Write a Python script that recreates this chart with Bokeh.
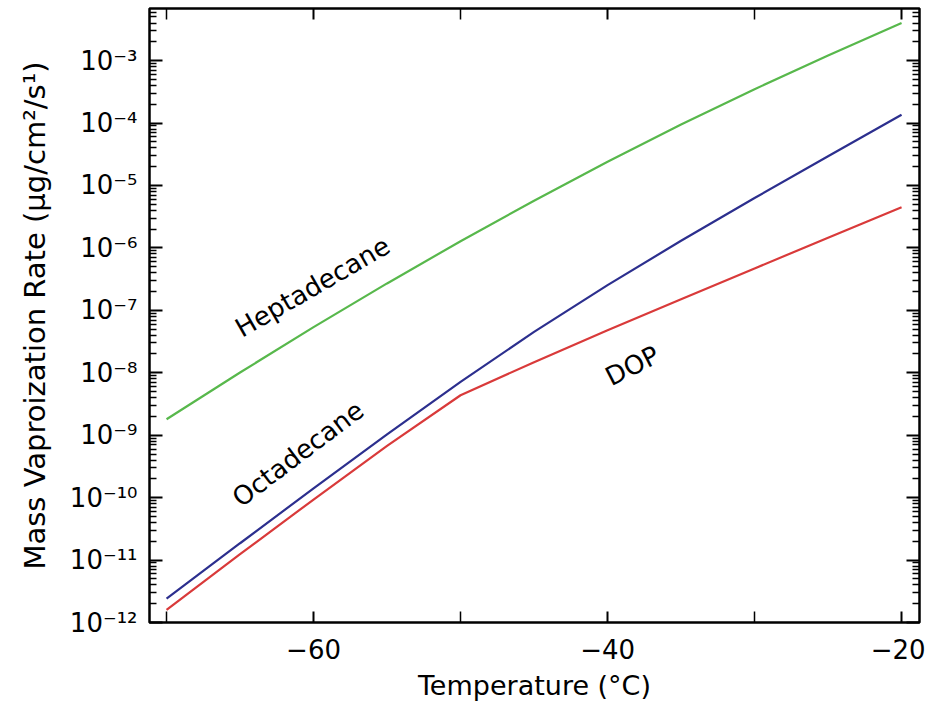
from bokeh.plotting import figure
from bokeh.models import (LinearAxis, LogAxis, FixedTicker, CustomJSTickFormatter,
                          Label, Range1d)
from bokeh.embed import file_html
from bokeh.resources import INLINE

# ---- data ----
temperature = [-70, -65, -60, -55, -50, -45, -40, -35, -30, -25, -20]
heptadecane = [1.80e-9, 1.01e-8, 5.38e-8, 2.70e-7, 1.28e-6, 5.70e-6,
               2.40e-5, 9.46e-5, 3.48e-4, 1.21e-3, 4.00e-3]
octadecane = [2.42e-12, 1.86e-11, 1.41e-10, 1.03e-9, 7.15e-9, 4.51e-8,
              2.54e-7, 1.30e-6, 6.30e-6, 2.94e-5, 1.36e-4]
dop = [1.60e-12, 1.24e-11, 9.33e-11, 6.76e-10, 4.37e-9, 1.48e-8,
       4.79e-8, 1.50e-7, 4.68e-7, 1.46e-6, 4.50e-6]

x_major = [-60, -40, -20]
x_minor = [-70, -50, -30]
y_decades = list(range(-12, -2))

FONT = "DejaVu Sans"

p = figure(width=925, height=703,
           x_range=Range1d(-71.16, -18.78), y_range=Range1d(1e-12, 6.84e-3),
           y_axis_type="log", output_backend="svg", toolbar_location=None,
           min_border_left=149, min_border_right=6, min_border_top=8,
           min_border_bottom=81)
p.background_fill_color = "white"
p.border_fill_color = "white"
p.grid.grid_line_color = None
p.outline_line_color = "black"
p.outline_line_width = 2.5

xticker = FixedTicker(ticks=x_major, minor_ticks=x_minor)
yticker = FixedTicker(ticks=[10.0 ** e for e in y_decades],
                      minor_ticks=[k * 10.0 ** e for e in y_decades for k in range(2, 10)])

xfmt = CustomJSTickFormatter(code=r"""
return (tick < 0 ? '\u2212' : '') + Math.abs(tick).toFixed(0);
""")
yfmt = CustomJSTickFormatter(code=r"""
const e = Math.round(Math.log10(tick));
const sup = {'-':'\u207b','0':'\u2070','1':'\u00b9','2':'\u00b2','3':'\u00b3',
             '4':'\u2074','5':'\u2075','6':'\u2076','7':'\u2077','8':'\u2078','9':'\u2079'};
return '10' + String(e).split('').map(c => sup[c]).join('');
""")
empty = CustomJSTickFormatter(code="return '';")


def style_ticks(ax, major_in, minor_in):
    ax.axis_line_color = None
    ax.major_tick_in = major_in
    ax.major_tick_out = 0
    ax.minor_tick_in = minor_in
    ax.minor_tick_out = 0
    ax.major_tick_line_color = "black"
    ax.minor_tick_line_color = "black"
    ax.major_tick_line_width = 2
    ax.minor_tick_line_width = 1.5


xa = p.xaxis[0]
xa.ticker = xticker
xa.formatter = xfmt
style_ticks(xa, 11, 11)
xa.major_label_text_font = FONT
xa.major_label_text_font_size = "26px"
xa.major_label_text_color = "black"
xa.major_label_standoff = 16
xa.axis_label = "Temperature (°C)"
xa.axis_label_text_font = FONT
xa.axis_label_text_font_size = "27px"
xa.axis_label_text_font_style = "normal"
xa.axis_label_text_color = "black"
xa.axis_label_standoff = 8

ya = p.yaxis[0]
ya.ticker = yticker
ya.formatter = yfmt
style_ticks(ya, 13, 7)
ya.major_label_text_font = FONT
ya.major_label_text_font_size = "26px"
ya.major_label_text_color = "black"
ya.major_label_standoff = 12
ya.axis_label = "Mass Vaproization Rate (μg/cm²/s¹)"
ya.axis_label_text_font = FONT
ya.axis_label_text_font_size = "29px"
ya.axis_label_text_font_style = "normal"
ya.axis_label_text_color = "black"
ya.axis_label_standoff = 15

ry = LogAxis(ticker=yticker, formatter=empty, major_label_text_font_size="0px",
             major_label_standoff=0)
style_ticks(ry, 13, 7)
p.add_layout(ry, "right")

tx = LinearAxis(ticker=xticker, formatter=empty, major_label_text_font_size="0px",
                major_label_standoff=0)
style_ticks(tx, 11, 11)
p.add_layout(tx, "above")

p.line(temperature, heptadecane, line_color="#58b84c", line_width=2.2)
p.line(temperature, octadecane, line_color="#2c2f8e", line_width=2.2)
p.line(temperature, dop, line_color="#d93a3a", line_width=2.2)

for txt, lx, ly, ang in [("Heptadecane", -65.17, 4.8e-8, 30),
                         ("Octadecane", -65.3, 8.9e-11, 37),
                         ("DOP", -40.02, 8.1e-9, 27)]:
    p.add_layout(Label(x=lx, y=ly, text=txt, angle=ang, angle_units="deg",
                       text_font=FONT, text_font_size="26px", text_color="black",
                       text_align="left", text_baseline="alphabetic"))

open("out.html", "w").write(file_html(p, INLINE))
